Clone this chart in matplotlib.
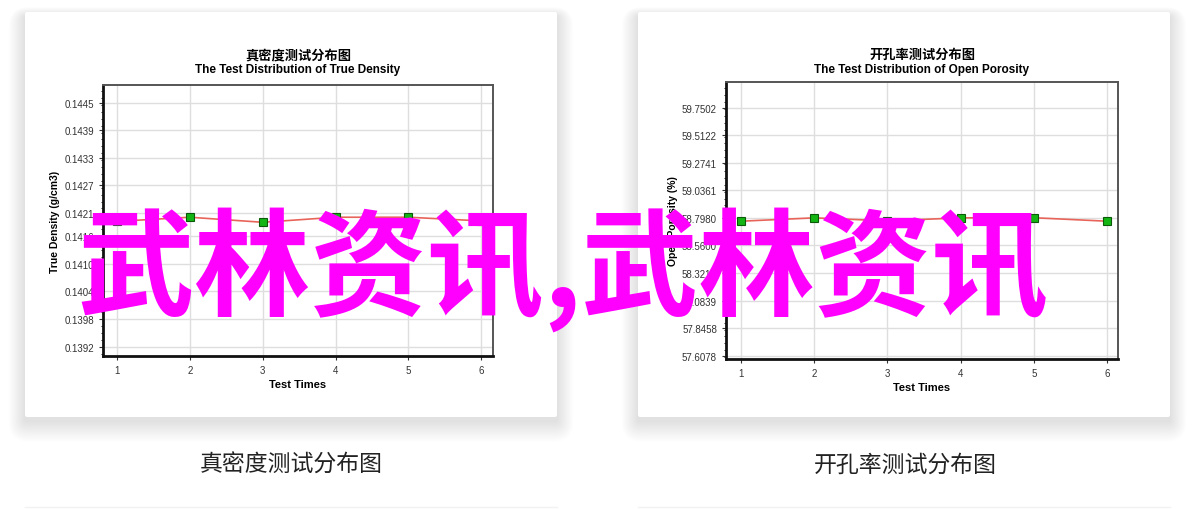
import matplotlib
matplotlib.use("Agg")
import matplotlib.pyplot as plt
from matplotlib.patches import FancyBboxPatch

plt.rcParams['font.family'] = ['Liberation Sans', 'Noto Sans CJK SC', 'DejaVu Sans']

# data
test_times = [1, 2, 3, 4, 5, 6]
true_density = [0.14192, 0.14201, 0.14190, 0.14201, 0.14201, 0.14193]
open_porosity = [58.769, 58.798, 58.772, 58.798, 58.799, 58.769]

density_ticks = [0.1392, 0.1398, 0.1404, 0.1410, 0.1416, 0.1421, 0.1427, 0.1433, 0.1439, 0.1445]
porosity_ticks = [57.6078, 57.8458, 58.0839, 58.3219, 58.5600, 58.7980, 59.0361, 59.2741, 59.5122, 59.7502]

W, H = 1200, 510
fig = plt.figure(figsize=(12, 5.1), dpi=100)
fig.patch.set_facecolor("white")

# background layer in pixel coordinates (y down)
bg = fig.add_axes([0, 0, 1, 1], zorder=-5)
bg.set_xlim(0, W)
bg.set_ylim(H, 0)
bg.axis("off")


def card(x0, y0, x1, y1):
    # soft shadow, mostly below the card
    n = 30
    for i in range(n, 0, -1):
        bg.add_patch(FancyBboxPatch((x0 - i * 0.55, y0 + 4 - i * 0.3), x1 - x0 + i * 1.1, y1 - y0 + i * 1.0,
                                    boxstyle="round,pad=0,rounding_size=%g" % (2 + i * 0.6),
                                    fc="black", ec="none", alpha=0.0032))
    bg.add_patch(FancyBboxPatch((x0, y0), x1 - x0, y1 - y0,
                                boxstyle="round,pad=0,rounding_size=2",
                                fc="white", ec="none"))


card(25, 13, 557, 418)
card(638, 13, 1170, 418)
bg.plot([25, 557], [508, 508], color="#f2f2f2", lw=1)
bg.plot([638, 1170], [508, 508], color="#f2f2f2", lw=1)


def panel(px, cn_title, en_title, ylabel, values, ticks, xlim, ylim):
    x0, y0, x1, y1 = px
    ax = fig.add_axes([x0 / W, 1 - y1 / H, (x1 - x0) / W, (y1 - y0) / H])
    ax.plot(test_times, values, color="#e8645a", lw=1.2, zorder=3)
    ax.plot(test_times, values, ls="none", marker="s", ms=5.5,
            mfc="#13b513", mec="#0a5a0a", mew=0.8, zorder=4)
    ax.set_xlim(*xlim)
    ax.set_ylim(*ylim)
    ax.set_xticks(test_times)
    ax.set_yticks(ticks)
    ax.set_yticklabels(["%.4f" % t for t in ticks])
    ax.yaxis.set_minor_locator(plt.MultipleLocator((ticks[1] - ticks[0]) / 4))
    ax.grid(True, color="#dedede", lw=1)
    ax.set_axisbelow(True)
    ax.tick_params(labelsize=7, colors="#333333", length=3, width=0.8)
    ax.tick_params(which="minor", length=1.8, width=0.6)
    for s in ("left", "bottom"):
        ax.spines[s].set_linewidth(2)
        ax.spines[s].set_color("#111111")
    for s in ("top", "right"):
        ax.spines[s].set_linewidth(1.4)
        ax.spines[s].set_color("#555555")
    ax.set_xlabel("Test Times", fontsize=8, fontweight="bold", labelpad=3)
    ax.set_ylabel(ylabel, fontsize=7.5, fontweight="bold", labelpad=3)
    cx = (x0 + x1) / 2
    fig.text(cx / W, 1 - 55 / H, cn_title, ha="center", va="center",
             fontsize=9.5, fontweight="bold", family=["Noto Sans CJK SC", "DejaVu Sans"])
    fig.text(cx / W, 1 - 70 / H, en_title, ha="center", va="center",
             fontsize=8.5, fontweight="bold", family=["Liberation Sans"])
    return ax


panel((103, 86, 493, 357), "真密度测试分布图", "The Test Distribution of True Density",
      "True Density (g/cm3)", true_density, density_ticks,
      (0.808, 6.16), (0.138996, 0.144882))
panel((726, 83, 1118, 360), "开孔率测试分布图", "The Test Distribution of Open Porosity",
      "Open Porosity (%)", open_porosity, porosity_ticks,
      (0.795, 6.15), (57.5793, 59.971))

# captions under the cards
for cx, txt in ((291, "真密度测试分布图"), (905, "开孔率测试分布图")):
    fig.text(cx / W, 1 - 465 / H, txt, ha="center", va="center", fontsize=16.5,
             color="#222222", family=["Noto Sans CJK SC", "DejaVu Sans"])

# big magenta overlay text
fig.text(563 / W, 1 - 270 / H, "武林资讯,武林资讯", ha="center", va="center",
         fontsize=84, color="#ff00ff", fontweight="bold",
         family=["Noto Sans CJK SC", "DejaVu Sans"], zorder=10)

fig.savefig("out.png", dpi=100, facecolor="white")
